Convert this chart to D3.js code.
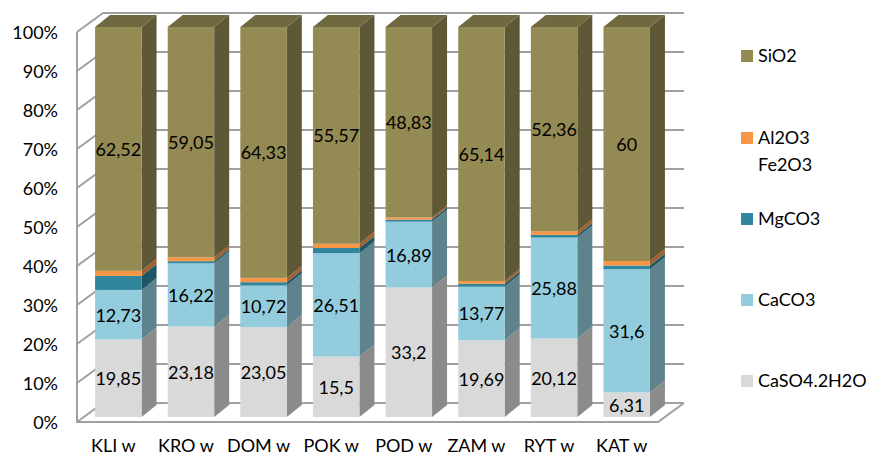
<!DOCTYPE html>
<html>
<head>
<meta charset="utf-8">
<script src="https://cdn.jsdelivr.net/npm/d3@7"></script>
<style>
  body { margin: 0; background: #fff; }
  svg text { font-family: Lato, "Open Sans", sans-serif; fill: #000; }
</style>
</head>
<body>
<div id="chart"></div>
<script>
// Data
const categories = ["KLI w", "KRO w", "DOM w", "POK w", "POD w", "ZAM w", "RYT w", "KAT w"];
const caso4 = [19.85, 23.18, 23.05, 15.5, 33.2, 19.69, 20.12, 6.31];
const caco3 = [12.73, 16.22, 10.72, 26.51, 16.89, 13.77, 25.88, 31.6];
const mgco3 = [3.6, 0.55, 0.8, 1.32, 0.53, 0.7, 0.69, 0.94];
const al2o3 = [1.3, 1.0, 1.1, 1.1, 0.55, 0.7, 0.95, 1.15];
const sio2 = [62.52, 59.05, 64.33, 55.57, 48.83, 65.14, 52.36, 60];
const yTicks = [0, 0.1, 0.2, 0.3, 0.4, 0.5, 0.6, 0.7, 0.8, 0.9, 1];

const keys = ["CaSO4.2H2O", "CaCO3", "MgCO3", "Al2O3 Fe2O3", "SiO2"];
const colors = {
    "CaSO4.2H2O": "#d9d9d9",
    "CaCO3": "#93cddd",
    "MgCO3": "#31859c",
    "Al2O3 Fe2O3": "#f79646",
    "SiO2": "#948a54"
};
const labelled = ["CaSO4.2H2O", "CaCO3", "SiO2"];

const rows = categories.map((c, i) => ({
    cat: c,
    "CaSO4.2H2O": caso4[i],
    "CaCO3": caco3[i],
    "MgCO3": mgco3[i],
    "Al2O3 Fe2O3": al2o3[i],
    "SiO2": sio2[i]
}));

const W = 870, H = 456;
const svg = d3.select("#chart").append("svg")
    .attr("width", W).attr("height", H);

// front plane of the plot box
const x0 = 77, x1 = 658;
const wallDx = 26, wallDy = -19;   // depth of walls
const barOffX = 5, barOffY = -5;   // bars sit a bit behind the front plane
const barDx = 15, barDy = -12;     // depth of each bar

const x = d3.scaleBand().domain(categories).range([x0, x1])
    .paddingInner(0.36).paddingOuter(0.18);
const y = d3.scaleLinear().domain([0, 1]).range([422, 32]);

const shade = (c, k) => {
    const r = d3.rgb(c);
    return d3.rgb(r.r * k, r.g * k, r.b * k).toString();
};

// walls and gridlines
const grid = svg.append("g")
    .attr("fill", "none").attr("stroke", "#a0a0a0").attr("stroke-width", 2);
grid.selectAll("path.grid").data(yTicks).join("path")
    .attr("class", "grid")
    .attr("d", t => `M${x0},${y(t)}L${x0 + wallDx},${y(t) + wallDy}L${x1 + wallDx},${y(t) + wallDy}`);
grid.append("path")
    .attr("d", `M${x0},${y(1)}L${x0},${y(0)}L${x1},${y(0)}L${x1 + wallDx},${y(0) + wallDy}`);

// y axis labels
svg.append("g").selectAll("text").data(yTicks).join("text")
    .attr("x", 58).attr("y", d => y(d))
    .attr("text-anchor", "end").attr("dominant-baseline", "central")
    .attr("font-size", 18)
    .text(d => d3.format(".0%")(d));

// x axis labels
svg.append("g").selectAll("text").data(categories).join("text")
    .attr("x", d => x(d) + x.bandwidth() / 2)
    .attr("y", 452)
    .attr("text-anchor", "middle")
    .attr("font-size", 18)
    .text(d => d);

// stacked bars
const stacked = d3.stack().keys(keys).offset(d3.stackOffsetExpand)(rows);
const bw = x.bandwidth();

categories.forEach((cat, i) => {
    const g = svg.append("g");
    const xl = x(cat) + barOffX, xr = xl + bw;
    stacked.forEach((layer, li) => {
        const seg = layer[i];
        const yb = y(seg[0]) + barOffY, yt = y(seg[1]) + barOffY;
        const col = colors[layer.key];
        g.append("path")
            .attr("d", `M${xr},${yb}L${xr + barDx},${yb + barDy}L${xr + barDx},${yt + barDy}L${xr},${yt}Z`)
            .attr("fill", shade(col, 0.64));
        g.append("rect")
            .attr("x", xl).attr("y", yt)
            .attr("width", bw).attr("height", Math.max(0, yb - yt))
            .attr("fill", col);
        if (li === stacked.length - 1) {
            g.append("path")
                .attr("d", `M${xl},${yt}L${xl + barDx},${yt + barDy}L${xr + barDx},${yt + barDy}L${xr},${yt}Z`)
                .attr("fill", shade(col, 0.76));
        }
    });
    // data labels
    stacked.filter(l => labelled.includes(l.key)).forEach(layer => {
        const seg = layer[i];
        const v = rows[i][layer.key];
        g.append("text")
            .attr("x", xl + bw / 2)
            .attr("y", (y(seg[0]) + y(seg[1])) / 2 + barOffY)
            .attr("text-anchor", "middle").attr("dominant-baseline", "central")
            .attr("font-size", 18)
            .text(String(v).replace(".", ","));
    });
});

// legend
const legendItems = [
    { key: "SiO2", lines: ["SiO2"], y: 50 },
    { key: "Al2O3 Fe2O3", lines: ["Al2O3", "Fe2O3"], y: 132 },
    { key: "MgCO3", lines: ["MgCO3"], y: 213 },
    { key: "CaCO3", lines: ["CaCO3"], y: 294 },
    { key: "CaSO4.2H2O", lines: ["CaSO4.2H2O"], y: 375 }
];
const legend = svg.append("g");
legendItems.forEach(d => {
    legend.append("rect")
        .attr("x", 741).attr("y", d.y).attr("width", 12).attr("height", 12)
        .attr("fill", colors[d.key]);
    d.lines.forEach((t, k) => {
        legend.append("text")
            .attr("x", 758).attr("y", d.y + 12 + k * 27)
            .attr("font-size", 18)
            .text(t);
    });
});
</script>
</body>
</html>
